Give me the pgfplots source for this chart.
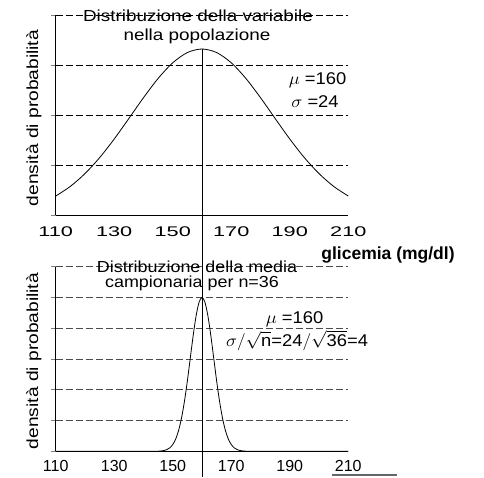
\documentclass[border=0pt]{standalone}
\usepackage{fontspec}
\setmainfont{Liberation Sans}
\usepackage{graphicx}
\usepackage{pgfplots}
\pgfplotsset{compat=1.18}

\newcommand\wide[2][1.2]{\scalebox{#1}[1]{#2}}

\pgfplotsset{distr/.style={
    scale only axis, width=292.6pt,
    xmin=110, xmax=210, ymin=0,
    axis x line=bottom, axis y line=left,
    axis line style={-, line width=0.8pt},
    xtick={110,130,150,170,190,210},
    yticklabels={},
    tick align=outside, major tick length=5pt,
    x tick style={draw=none},
    y tick style={line width=0.8pt},
    ymajorgrids,
    grid style={dashed, dash pattern=on 7pt off 3pt, line width=0.7pt},
    clip=false,
    /pgf/number format/assume math mode=true,
}}

\begin{document}
\begin{tikzpicture}
\path[use as bounding box] (0pt,0pt) rectangle (484pt,477pt);

% popolazione
\begin{axis}[distr,
    at={(55.7pt,262pt)}, anchor=south west, height=200pt,
    ymax=4, ytick={0,1,2,3,4},
    grid style={black},
    xticklabels={\wide[1.55]{110},\wide[1.55]{130},\wide[1.55]{150},\wide[1.55]{170},\wide[1.55]{190},\wide[1.55]{210}},
    xticklabel style={font=\fontsize{14}{14}\selectfont, yshift=-3pt},
]
\addplot[black, line width=0.8pt, smooth] coordinates {
 (110,0.379) (115,0.572) (120,0.828) (125,1.146) (130,1.520) (135,1.930)
 (140,2.346) (145,2.731) (150,3.044) (155,3.249) (160,3.320)
 (165,3.249) (170,3.044) (175,2.731) (180,2.346) (185,1.930) (190,1.520)
 (195,1.146) (200,0.828) (205,0.572) (210,0.379)};
\addplot[black, line width=0.8pt] coordinates {(160,3.32) (160,-0.5)};
\end{axis}

% media campionaria
\begin{axis}[distr,
    at={(55.7pt,25.7pt)}, anchor=south west, height=184.6pt,
    ymax=6, ytick={0,1,2,3,4,5,6},
    grid style={black!70},
    xticklabel style={font=\fontsize{16}{16}\selectfont},
]
\addplot[black, line width=0.8pt, smooth] coordinates {
 (110,0) (140,0) (144,0.004) (145,0.004) (146,0.011) (147,0.025) (148,0.056) (149,0.114)
 (150,0.220) (151,0.398) (152,0.677) (153,1.082) (154,1.623) (155,2.289)
 (156,3.033) (157,3.774) (158,4.412) (159,4.846) (160,5.000)
 (161,4.846) (162,4.412) (163,3.774) (164,3.033) (165,2.289) (166,1.623)
 (167,1.082) (168,0.677) (169,0.398) (170,0.220) (171,0.114) (172,0.056)
 (173,0.025) (174,0.011) (175,0.004) (176,0.004) (180,0) (210,0)};
\addplot[black, line width=0.8pt] coordinates {(160,6.86) (160,-0.84)};
\end{axis}

\begin{scope}[every node/.style={inner sep=0pt}]
\node[anchor=base, font=\fontsize{16}{16}\selectfont] at (198pt,455.3pt) {\wide[1.18]{Distribuzione della variabile}};
\node[anchor=base, font=\fontsize{16}{16}\selectfont] at (197pt,436pt) {\wide[1.18]{nella popolazione}};
\node[anchor=base, font=\fontsize{16}{16}\selectfont] at (197pt,205pt) {\wide[1.12]{Distribuzione della media}};
\node[anchor=base, font=\fontsize{16}{16}\selectfont] at (192pt,190pt) {\wide[1.12]{campionaria per n=36}};
\node[anchor=base, font=\bfseries\fontsize{17.5}{17.5}\selectfont] at (388pt,218pt) {glicemia (mg/dl)};
\node[rotate=90, font=\fontsize{16}{16}\selectfont] at (34pt,359pt) {\wide{densità di probabilità}};
\node[rotate=90, font=\fontsize{16}{16}\selectfont] at (34pt,116pt) {\wide{densità di probabilità}};
\node[anchor=base, font=\fontsize{17}{17}\selectfont] at (317.5pt,392pt) {\wide[1.08]{\(\mu\) =160}};
\node[anchor=base, font=\fontsize{17}{17}\selectfont] at (315pt,369pt) {\wide[1.08]{\(\sigma\) =24}};
\node[anchor=base, font=\fontsize{17}{17}\selectfont] at (294.5pt,153.5pt) {\wide[1.08]{\(\mu\) =160}};
\node[anchor=base, font=\fontsize{17}{17}\selectfont] at (297pt,131pt) {\wide[1.08]{\(\sigma/\sqrt{\mbox{n}}\)=24\(/\sqrt{\mbox{36}}\)=4}};
\end{scope}
\draw[black!60, line width=1.2pt] (332pt,2pt) -- (397pt,2pt);
\end{tikzpicture}
\end{document}
